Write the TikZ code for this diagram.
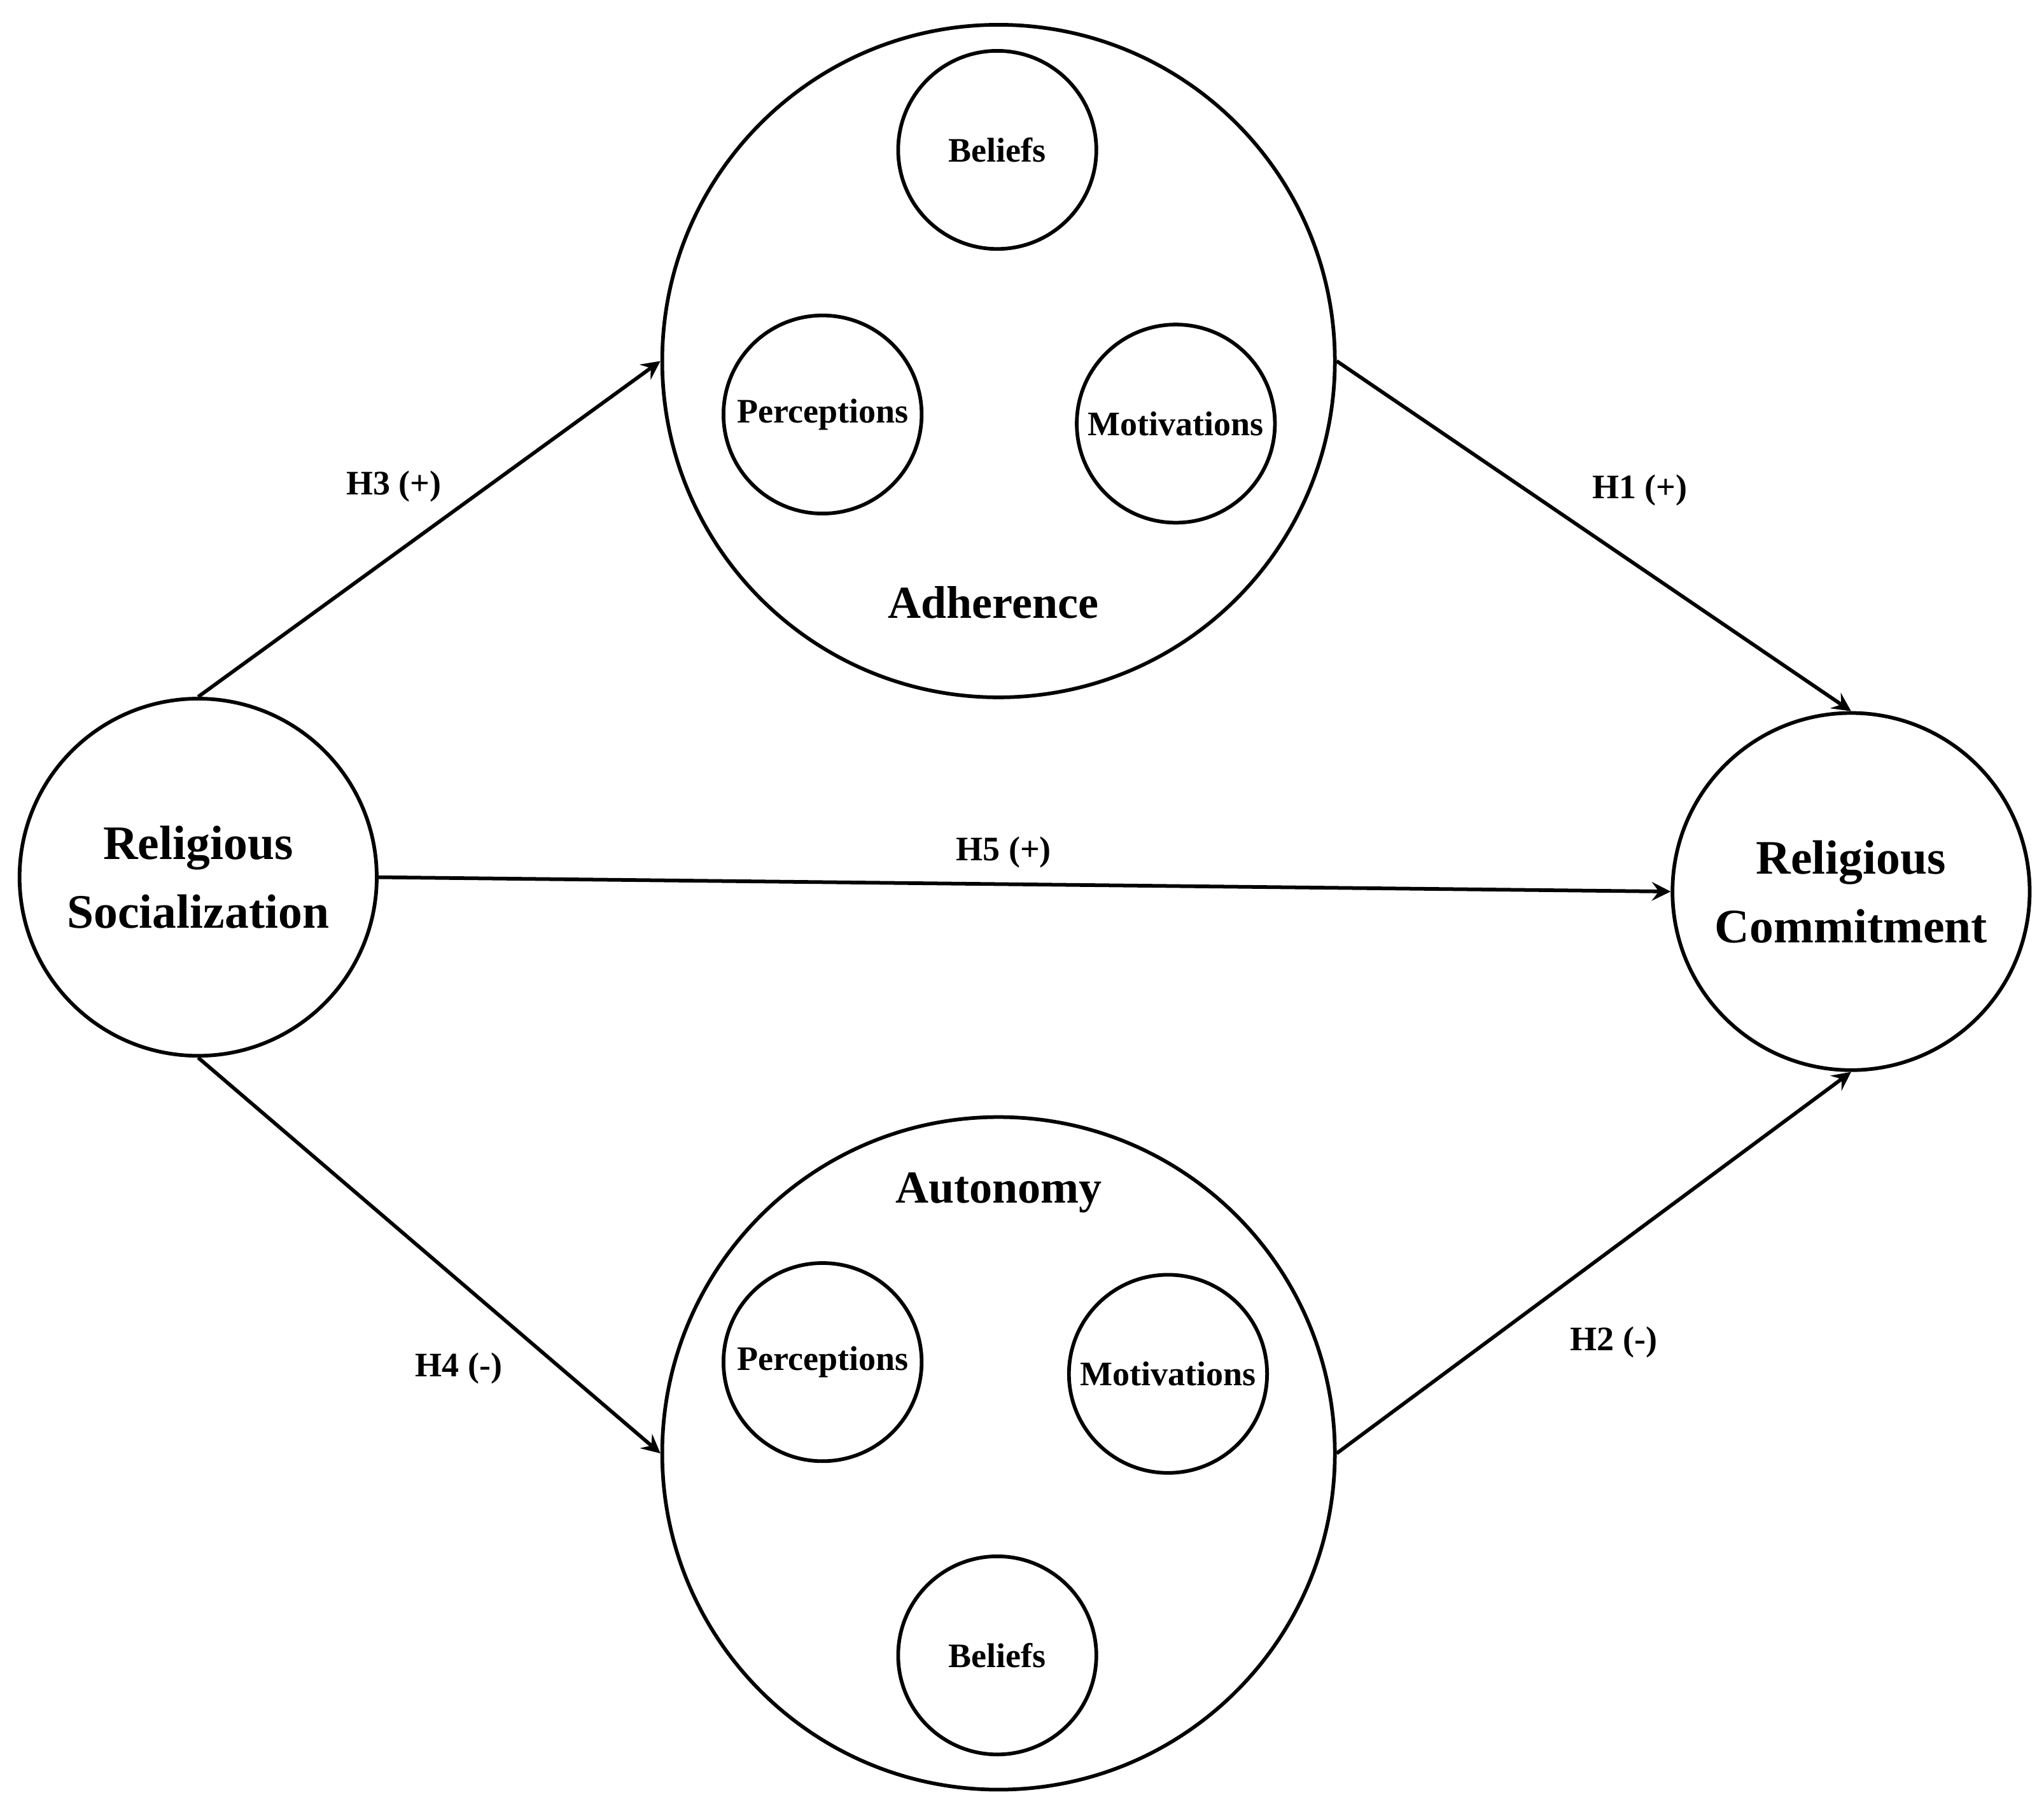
\documentclass[tikz,border=0pt]{standalone}
\usepackage{fontspec}
\setmainfont{Liberation Serif}
\usetikzlibrary{arrows, positioning}

\begin{document}
\begin{tikzpicture}[>=stealth, line width=0.8pt]

        % --- Styles ---
        \tikzstyle{bigcirc} = [circle, draw=black, minimum size=5.16cm, inner sep=0pt]
        \tikzstyle{subcirc} = [circle, draw=black, minimum size=1.52cm, inner sep=0pt, font=\fontsize{7.5}{9}\selectfont\bfseries]
        \tikzstyle{endcirc} = [circle, draw=black, minimum size=2.74cm, inner sep=0pt, align=center, font=\fontsize{10.5}{15}\selectfont\bfseries]
        \tikzstyle{hyp} = [font=\fontsize{7.5}{9}\selectfont\bfseries]
        \tikzstyle{arrow} = [->]

        \useasboundingbox (0,0) rectangle (15.68,-13.77);

        % --- Nodes ---

        % 1. Adherence
        \node (adh) [bigcirc] at (7.66,-2.77) {};
        \node (adh_bel) [subcirc] at (7.65,-1.15) {Beliefs};
        \node (adh_per) [subcirc] at (6.31,-3.18) {Perceptions};
        \node (adh_mot) [subcirc] at (9.02,-3.25) {Motivations};
        \node (adh_lbl) [font=\fontsize{10}{12}\selectfont\bfseries] at (7.62,-4.62) {Adherence};

        % 2. Autonomy
        \node (aut) [bigcirc] at (7.66,-11.15) {};
        \node (aut_per) [subcirc] at (6.31,-10.45) {Perceptions};
        \node (aut_mot) [subcirc] at (8.96,-10.54) {Motivations};
        \node (aut_bel) [subcirc] at (7.65,-12.70) {Beliefs};
        \node (aut_lbl) [font=\fontsize{10}{12}\selectfont\bfseries] at (7.66,-9.15) {Autonomy};

        % 3. Socialization and Commitment
        \node (soc) [endcirc] at (1.52,-6.73) {Religious\\Socialization};
        \node (com) [endcirc] at (14.20,-6.84) {Religious\\Commitment};

        % --- Arrows ---
        \draw[arrow] (soc.north) -- (adh.west);
        \draw[arrow] (adh.east) -- (com.north);
        \draw[arrow] (soc.east) -- (com.west);
        \draw[arrow] (soc.south) -- (aut.west);
        \draw[arrow] (aut.east) -- (com.south);

        % --- Labels ---
        \node (h3) [hyp] at (3.02,-3.73) {H3 (+)};
        \node (h1) [hyp] at (12.58,-3.76) {H1 (+)};
        \node (h5) [hyp] at (7.70,-6.54) {H5 (+)};
        \node (h4) [hyp] at (3.52,-10.50) {H4 (-)};
        \node (h2) [hyp] at (12.38,-10.30) {H2 (-)};
        \end{tikzpicture}
\end{document}
